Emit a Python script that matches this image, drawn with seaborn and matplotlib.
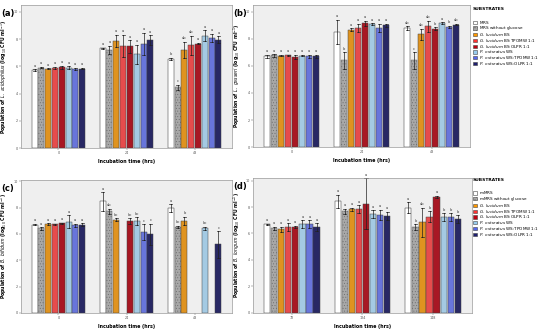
import numpy as np
import pandas as pd
import seaborn as sns
import matplotlib.pyplot as plt
from matplotlib.patches import Patch

# ---------- data ----------
substrates = ["MRS", "MRS without glucose", "G. lucidum BS", "G. lucidum BS:TPOMW 1:1",
              "G. lucidum BS:OLPR 1:1", "P. ostreatus WS", "P. ostreatus WS:TPOMW 1:1",
              "P. ostreatus WS:OLPR 1:1"]
times_abc = ["0", "24", "48"]
times_d = ["72", "124", "148"]

# mean log10 CFU/ml, rows = time, cols = substrate
acido_mean = [[5.71, 5.91, 5.81, 5.89, 5.94, 5.89, 5.81, 5.83],
              [7.32, 7.22, 7.88, 7.51, 7.46, 6.90, 7.66, 7.93],
              [6.53, 4.46, 7.19, 7.54, 7.66, 8.25, 8.08, 7.96]]
acido_err = [[0.08, 0.05, 0.04, 0.08, 0.1, 0.1, 0.06, 0.05],
             [0.05, 0.3, 0.45, 0.8, 0.45, 0.7, 0.8, 0.35],
             [0.1, 0.2, 0.6, 0.7, 0.05, 0.4, 0.3, 0.25]]
acido_letters = [["a"] * 8, ["a"] * 8, ["b", "c", "ab", "ab", "a", "a", "a", "a"]]

gass_mean = [[6.72, 6.77, 6.75, 6.77, 6.65, 6.75, 6.72, 6.72],
             [8.52, 6.40, 8.67, 8.82, 9.14, 9.11, 8.82, 9.01],
             [8.77, 6.40, 8.35, 8.92, 8.74, 9.16, 8.87, 9.04]]
gass_err = [[0.1, 0.1, 0.05, 0.05, 0.15, 0.05, 0.1, 0.1],
            [0.9, 0.6, 0.1, 0.3, 0.2, 0.05, 0.3, 0.1],
            [0.15, 0.6, 0.4, 0.4, 0.1, 0.05, 0.1, 0.05]]
gass_letters = [["a"] * 8, ["a", "b", "a", "a", "a", "a", "a", "a"],
                ["ab", "c", "ab", "ab", "b", "a", "b", "ab"]]

bifid_mean = [[6.71, 6.41, 6.76, 6.73, 6.81, 6.91, 6.66, 6.71],
              [8.47, 7.71, 7.09, np.nan, 6.98, 6.96, 6.13, 5.98],
              [7.96, 6.53, 7.01, np.nan, np.nan, 6.43, np.nan, 5.20]]
bifid_err = [[0.05, 0.1, 0.05, 0.05, 0.05, 0.5, 0.1, 0.1],
             [0.7, 0.2, 0.1, np.nan, 0.2, 0.3, 0.6, 0.8],
             [0.3, 0.1, 0.3, np.nan, np.nan, 0.1, np.nan, 1.0]]
bifid_letters = [["a"] * 8, ["a", "ab", "bc", "", "bc", "bc", "c", "c"],
                 ["a", "bc", "b", "", "", "bc", "", "c"]]

longum_mean = [[6.69, 6.39, 6.31, 6.46, 6.49, 6.69, 6.69, 6.46],
               [8.43, 7.68, 7.83, 7.83, 8.26, 7.45, 7.40, 7.35],
               [7.95, 6.49, 6.84, 7.27, 8.76, 7.22, 7.22, 7.07]]
longum_err = [[0.05, 0.1, 0.2, 0.3, 0.1, 0.3, 0.3, 0.3],
              [0.5, 0.2, 0.1, 0.3, 1.9, 0.3, 0.4, 0.3],
              [0.4, 0.2, 1.1, 0.4, 0.1, 0.3, 0.3, 0.3]]
longum_letters = [["a"] * 8, ["a"] * 8, ["a", "b", "ab", "b", "a", "b", "b", "b"]]

colors = ["#FFFFFF", "#A8A8A8", "#FF9900", "#FF3333", "#C00010",
          "#99CCEE", "#5566EE", "#1E1E6E"]

plt.rcParams["hatch.linewidth"] = 0.3
fig = plt.figure(figsize=(5.5, 3.35), dpi=100)


def long_table(times, mean, err):
    # two rows per bar (mean +/- err) so that a 100% interval gives the error bar
    rows = []
    for i, t in enumerate(times):
        for j, s in enumerate(substrates):
            m, e = mean[i][j], err[i][j]
            if np.isnan(m):
                continue
            rows.append((t, s, m - e))
            rows.append((t, s, m + e))
    return pd.DataFrame(rows, columns=["time", "substrate", "value"])


def panel(rect, times, mean, err, letters, tag, species, ytop):
    ax = fig.add_axes(rect)
    df = long_table(times, mean, err)
    sns.barplot(data=df, x="time", y="value", hue="substrate", order=times,
                hue_order=substrates, palette=colors, errorbar=("pi", 100),
                width=0.8, gap=0.12, capsize=0.35, legend=False,
                err_kws={"linewidth": 0.5, "color": "#222222"},
                edgecolor="#444444", linewidth=0.35, ax=ax)
    ax.set_facecolor("#EFEFEF")
    for j, cont in enumerate(ax.containers):
        for bar in cont:
            if j == 0:
                bar.set_edgecolor("#333333")
            if j == 1:
                bar.set_hatch("......")
                bar.set_edgecolor("#666666")
            i = int(round(bar.get_x() + bar.get_width() / 2))
            top = mean[i][j] + err[i][j]
            ax.text(bar.get_x() + bar.get_width() / 2, top + 0.12, letters[i][j],
                    ha="center", va="bottom", fontsize=2.6, color="#333333")
    ax.set_ylim(0, ytop)
    ax.set_xlim(-0.55, 2.55)
    ax.set_yticks([0, 2, 4, 6, 8, 10])
    ax.tick_params(labelsize=2.4, length=1.2, width=0.3, pad=1, colors="#555555")
    for sp in ax.spines.values():
        sp.set_color("#999999")
        sp.set_linewidth(0.5)
    ax.set_xlabel("Incubation time (hrs)", fontsize=3.4, fontweight="bold", labelpad=3)
    ax.set_ylabel(r"Population of $\it{" + species + r"}$ (log$_{10}$ CFU ml$^{-1}$)",
                  fontsize=3.3, fontweight="bold", labelpad=3)
    fig.text(rect[0] - 0.036, rect[1] + rect[3] - 0.025, tag, fontsize=6,
             fontweight="bold", ha="left", va="center")
    return ax


panel([0.038, 0.558, 0.384, 0.427], times_abc, acido_mean, acido_err, acido_letters,
      "(a)", r"L.\ acidophilus", 10.5)
panel([0.46, 0.561, 0.395, 0.424], times_abc, gass_mean, gass_err, gass_letters,
      "(b)", r"L.\ gasseri", 10.5)
panel([0.038, 0.066, 0.384, 0.397], times_abc, bifid_mean, bifid_err, bifid_letters,
      "(c)", r"B.\ bifidum", 10.1)
panel([0.46, 0.066, 0.398, 0.403], times_d, longum_mean, longum_err, longum_letters,
      "(d)", r"B.\ longum", 10.2)


# ---------- legends ----------
def legend_labels(first):
    out = [r"$\mathregular{" + first + "}$",
           r"$\mathregular{" + first + r"\ without\ glucose}$"]
    for s in substrates[2:]:
        genus, rest = s.split(" ", 1)
        sp, tail = rest.split(" ", 1)
        out.append(r"$\it{" + genus + r"\ " + sp + "}$ " + tail)
    return out


for first, ytop in [("MRS", 0.985), ("mMRS", 0.475)]:
    handles = []
    for j, c in enumerate(colors):
        h = Patch(facecolor=c, edgecolor="#444444", linewidth=0.4,
                  hatch="......" if j == 1 else None)
        handles.append(h)
    leg = fig.legend(handles, legend_labels(first), loc="upper left",
                     bbox_to_anchor=(0.857, ytop), frameon=False, fontsize=3.0,
                     title="SUBSTRATES\n\n", title_fontproperties={"size": 3.2, "weight": "bold"},
                     handlelength=0.9, handleheight=0.8, handletextpad=0.5,
                     labelspacing=-0.3, borderaxespad=0)
    leg._legend_box.align = "left"

fig.savefig("out.png", dpi=100)
